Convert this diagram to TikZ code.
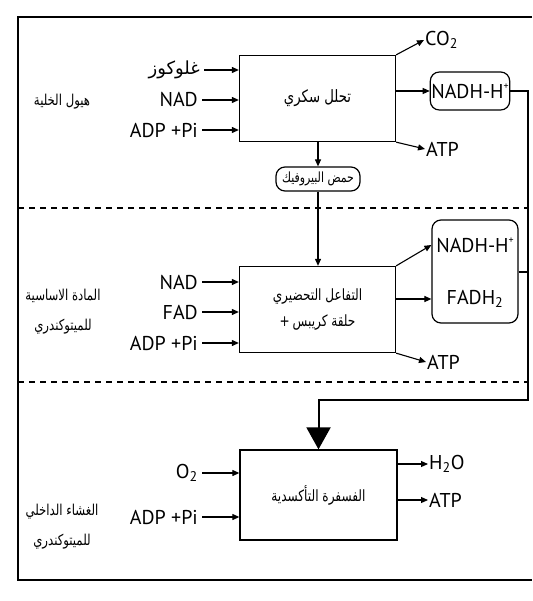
\documentclass[tikz,border=0pt]{standalone}
\usepackage{fontspec}
\setmainfont{PT Sans}
\newfontfamily\arabicfont[Script=Arabic]{DejaVu Sans}
\newfontfamily\arabicnarrow[Script=Arabic,FakeStretch=0.78]{DejaVu Sans}
\TeXXeTstate=1
\usetikzlibrary{arrows.meta}

\newcommand{\ionplus}{\raisebox{0.9ex}{\fontsize{10}{10}\selectfont+}}

\tikzset{
  stage/.style={draw, line width=1.3pt, minimum width=156pt, minimum height=86pt, inner sep=0pt,
    font=\arabicnarrow\fontsize{15.5}{17}\selectfont, align=center},
  prod/.style={draw, line width=1.2pt, rounded corners=9pt, inner sep=0pt},
  chem/.style={font=\fontsize{20}{22}\selectfont, inner sep=1pt},
  artxt/.style={font=\arabicfont\fontsize{18}{20}\selectfont, inner sep=1pt},
  zone/.style={font=\arabicnarrow\fontsize{15}{30}\selectfont, align=center},
  flow/.style={line width=1.1pt, -{Triangle[length=7pt,width=6pt]}},
  feed/.style={line width=2pt, -{Triangle[length=22pt,width=24pt]}},
  sep/.style={line width=1.1pt, dash pattern=on 6pt off 5pt},
}

\begin{document}
\begin{tikzpicture}[x=1pt,y=-1pt]
  \useasboundingbox (0,0) rectangle (532,601);
  % frame and zone limits
  \draw[line width=1.6pt] (532,17) -- (18,17) -- (18,580) -- (532,580);
  \draw[sep] (18,208) -- (528,208);
  \draw[sep] (18,382) -- (528,382);

  % zone names
  \node[zone] (cyto) at (62,102) {\beginR هيول الخلية\endR};
  \node[zone] (matrix) at (63,312) {\beginR المادة الاساسية\endR\\\beginR للميتوكندري\endR};
  \node[zone] (membr) at (62,527) {\beginR الغشاء الداخلي\endR\\\beginR للميتوكندري\endR};

  % glycolysis
  \node[stage, font=\arabicnarrow\fontsize{17}{19}\selectfont] (glyc) at (317.5,98.5) {\beginR تحلل سكري\endR};
  \node[artxt, anchor=east] (gluc) at (201,70) {\beginR غلوكوز\endR};
  \node[chem, anchor=east] (nad1) at (199,100) {NAD};
  \node[chem, anchor=east] (adp1) at (199,130) {ADP +Pi};
  \foreach \n in {gluc,nad1,adp1}
    \draw[flow] ([xshift=3pt]\n.east) -- (\n.east -| glyc.west);
  \node[chem, anchor=west] (co2) at (424,40) {CO\textsubscript{2}};
  \node[prod, chem, minimum width=76pt, minimum height=38pt] (nadh1) at (470,91) {NADH-H\ionplus};
  \node[chem, anchor=west] (atp1) at (425,149) {ATP};
  \draw[flow] (glyc.north east) -- (co2.west);
  \draw[flow] (glyc.east |- nadh1) -- (nadh1.west);
  \draw[flow] (glyc.south east) -- (atp1.west);

  \node[prod, font=\arabicnarrow\fontsize{14}{15}\selectfont, minimum width=84pt, minimum height=24pt] (pyr) at (318,179) {\beginR حمض البيروفيك\endR};
  \draw[flow] (glyc.south -| pyr) -- (pyr.north);

  % link reaction and Krebs cycle
  \node[stage] (krebs) at (317.5,309.5) {\beginR التفاعل التحضيري\endR\\[9pt]\mbox{+}\hspace{3pt}\beginR حلقة كريبس\endR};
  \draw[flow] (pyr.south) -- (pyr.south |- krebs.north);
  \node[chem, anchor=east] (nad2) at (199,282) {NAD};
  \node[chem, anchor=east] (fad) at (199,312) {FAD};
  \node[chem, anchor=east] (adp2) at (199,343) {ADP +Pi};
  \foreach \n in {nad2,fad,adp2}
    \draw[flow] ([xshift=3pt]\n.east) -- (\n.east -| krebs.west);
  \node[prod, minimum width=86pt, minimum height=103pt] (red) at (475,271.5) {};
  \node[chem] (nadh2) at (475,245) {NADH-H\ionplus};
  \node[chem] (fadh) at (475,299) {FADH\textsubscript{2}};
  \node[chem, anchor=west] (atp2) at (426,362) {ATP};
  \draw[flow] (krebs.north east) -- (red.west |- nadh2);
  \draw[flow] (krebs.east |- fadh) -- (red.west |- fadh);
  \draw[flow] (krebs.south east) -- (atp2.west);

  % oxidative phosphorylation
  \node[stage, minimum width=157pt, minimum height=90pt] (oxph) at (318.5,495) {\beginR الفسفرة التأكسدية\endR};
  \node[chem, anchor=east] (o2) at (199,473) {O\textsubscript{2}};
  \node[chem, anchor=east] (adp3) at (199,517) {ADP +Pi};
  \foreach \n in {o2,adp3}
    \draw[flow] ([xshift=3pt]\n.east) -- (\n.east -| oxph.west);
  \node[chem, anchor=west] (h2o) at (428,464) {H\textsubscript{2}O};
  \node[chem, anchor=west] (atp3) at (428,500) {ATP};
  \draw[flow] (oxph.east |- h2o) -- (h2o.west);
  \draw[flow] (oxph.east |- atp3) -- (atp3.west);

  % reduced carriers feed the chain
  \coordinate (turn) at (528,400);
  \draw[feed] (nadh1.east) -| (turn) -| (oxph.north);
  \draw[line width=2pt] (red.east) -- (red.east -| turn);
\end{tikzpicture}
\end{document}
